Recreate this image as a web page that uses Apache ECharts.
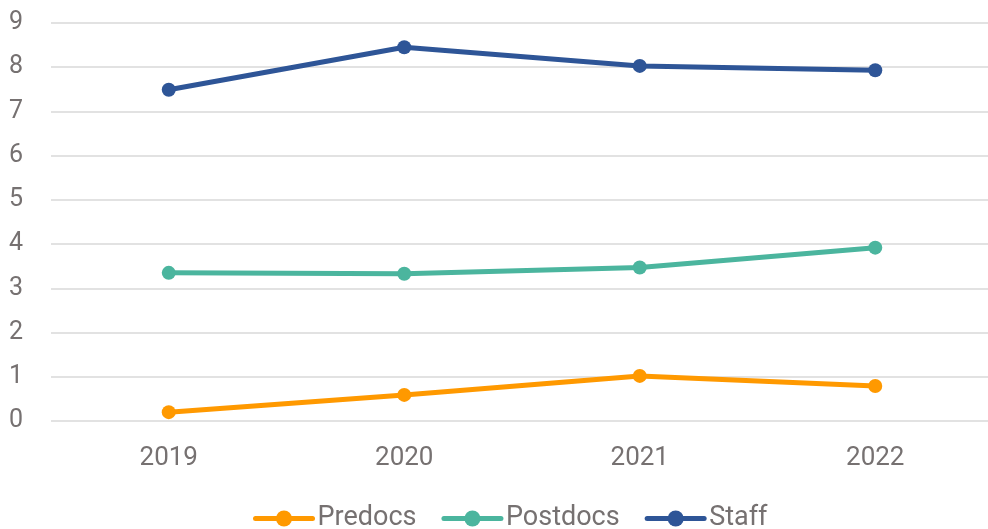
<!DOCTYPE html>
<html>
<head>
<meta charset="utf-8">
<script src="https://cdn.jsdelivr.net/npm/echarts@6/dist/echarts.min.js"></script>
<style>
  html, body { margin: 0; padding: 0; background: #fff; overflow: hidden; }
  #chart { width: 993px; height: 529px; }
</style>
</head>
<body>
<div id="chart"></div>
<script>
// Years on the category axis
const years = ['2019', '2020', '2021', '2022'];

// Per-group values
const predocs = [0.2, 0.59, 1.02, 0.79];
const postdocs = [3.35, 3.33, 3.47, 3.92];
const staff = [7.49, 8.45, 8.03, 7.93];

const FONT = 'Roboto, "DejaVu Sans", sans-serif';
const TEXT_GREY = '#767171';

function lineSeries(name, data, color) {
  return {
    name: name,
    type: 'line',
    data: data,
    symbol: 'circle',
    symbolSize: 14,
    lineStyle: { width: 5, color: color, cap: 'round' },
    itemStyle: { color: color },
    emphasis: { disabled: true }
  };
}

const chart = echarts.init(document.getElementById('chart'));
chart.setOption({
  animation: false,
  grid: { left: 51, right: 0, top: 23, bottom: 108, containLabel: false },
  xAxis: {
    type: 'category',
    data: years,
    boundaryGap: true,
    axisLine: { show: false },
    axisTick: { show: false },
    axisLabel: { color: TEXT_GREY, fontSize: 26, fontFamily: FONT, margin: 24 }
  },
  yAxis: {
    type: 'value',
    min: 0,
    max: 9,
    interval: 1,
    axisLine: { show: false },
    axisTick: { show: false },
    axisLabel: { color: TEXT_GREY, fontSize: 25, fontFamily: FONT, margin: 28 },
    splitLine: { lineStyle: { color: '#d9d9d9', width: 1.5 } }
  },
  legend: {
    bottom: -8,
    left: 248,
    itemWidth: 57,
    itemHeight: 20,
    itemGap: 25,
    lineStyle: { width: 5, cap: 'round' },
    textStyle: { color: TEXT_GREY, fontSize: 27, fontFamily: FONT, padding: [0, 0, 0, 0] },
    data: ['Predocs', 'Postdocs', 'Staff']
  },
  series: [
    lineSeries('Predocs', predocs, '#ff9900'),
    lineSeries('Postdocs', postdocs, '#4bb59e'),
    lineSeries('Staff', staff, '#2e5597')
  ]
});
</script>
</body>
</html>
